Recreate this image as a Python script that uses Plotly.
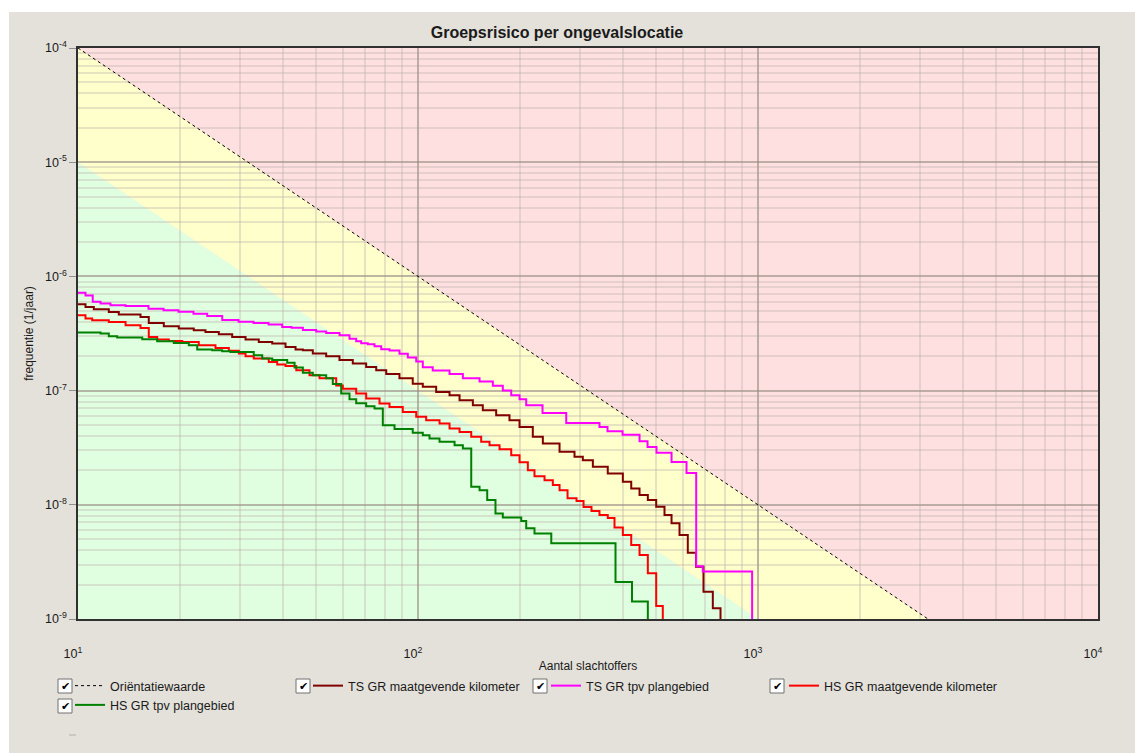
import numpy as np
import plotly.graph_objects as go

# ---------------- data ----------------
x_tick_vals = [10, 100, 1000, 10000]
x_tick_text = ["10<sup>1</sup>", "10<sup>2</sup>", "10<sup>3</sup>", "10<sup>4</sup>"]
y_tick_vals = [1e-9, 1e-8, 1e-7, 1e-6, 1e-5, 1e-4]
y_tick_text = ["10<sup>-9</sup>", "10<sup>-8</sup>", "10<sup>-7</sup>",
               "10<sup>-6</sup>", "10<sup>-5</sup>", "10<sup>-4</sup>"]

# orientation value line (upper zone border) and lower zone border
orient_N = [10, 3162.3]
orient_F = [1e-4, 1e-9]
zone_low_N = [10, 1000]
zone_low_F = [1e-5, 1e-9]

# TS GR maatgevende kilometer
ts_mk_N = [10, 10.52, 11.13, 12.32, 13.18, 15.27, 16.15, 17.88, 19.79, 21.9,
           23.71, 25.95, 28.41, 31.1, 34.02, 37.26, 40.77, 43.64, 45.85, 49.05,
           53.7, 58.75, 64.3, 70.4, 75.36, 80.64, 88.2, 96.5, 103.3, 113.1,
           123.8, 132.5, 145, 155.1, 169.8, 185.8, 198.9, 217.6, 232.9, 260.8,
           288.6, 305.3, 326.8, 361.5, 400.4, 423.8, 448.3, 474.2, 501.9, 530.9,
           556.8, 587.7, 621.6, 657.1, 691.3, 736.4, 775.8]
ts_mk_F = [5.70e-7, 5.40e-7, 5.16e-7, 4.88e-7, 4.63e-7, 4.41e-7, 3.91e-7, 3.66e-7, 3.49e-7, 3.38e-7,
           3.26e-7, 3.11e-7, 2.95e-7, 2.80e-7, 2.67e-7, 2.58e-7, 2.41e-7, 2.29e-7, 2.26e-7, 2.11e-7,
           2.00e-7, 1.85e-7, 1.73e-7, 1.61e-7, 1.51e-7, 1.40e-7, 1.28e-7, 1.15e-7, 1.08e-7, 9.74e-8,
           9.12e-8, 8.24e-8, 7.45e-8, 6.74e-8, 6.09e-8, 5.51e-8, 4.81e-8, 3.94e-8, 3.44e-8, 2.91e-8,
           2.63e-8, 2.46e-8, 2.15e-8, 1.88e-8, 1.59e-8, 1.39e-8, 1.22e-8, 1.10e-8, 9.61e-9, 8.13e-9,
           6.88e-9, 5.43e-9, 3.80e-9, 2.87e-9, 1.73e-9, 1.24e-9, 1e-9]

# TS GR tpv plangebied
ts_pg_N = [10, 10.52, 11.05, 11.65, 12.46, 13.8, 16.12, 17.85, 19.75, 21.86,
           23.99, 26.56, 29.66, 32.83, 36.34, 39.87, 42.46, 45.85, 50.18, 53.7,
           58.77, 62.88, 65.8, 68.06, 71.19, 74.5, 77.95, 82.46, 88.22, 93.33,
           98.79, 103.3, 110.5, 123.8, 135.5, 151.7, 166, 177.6, 188, 198.9,
           208.1, 232.4, 272.9, 341.8, 360.9, 399.6, 448.3, 473.2, 502.9, 556.8,
           616.3, 658, 688, 961]
ts_pg_F = [7.2e-7, 6.8e-7, 6.0e-7, 5.8e-7, 5.6e-7, 5.5e-7, 5.2e-7, 5.05e-7, 4.9e-7, 4.7e-7,
           4.5e-7, 4.15e-7, 4.0e-7, 3.9e-7, 3.8e-7, 3.6e-7, 3.55e-7, 3.4e-7, 3.3e-7, 3.2e-7,
           3.05e-7, 2.85e-7, 2.7e-7, 2.6e-7, 2.55e-7, 2.45e-7, 2.3e-7, 2.25e-7, 2.1e-7, 1.95e-7,
           1.8e-7, 1.6e-7, 1.5e-7, 1.4e-7, 1.28e-7, 1.2e-7, 1.1e-7, 1.0e-7, 9.1e-8, 8.4e-8,
           7.45e-8, 6.35e-8, 5.2e-8, 4.8e-8, 4.4e-8, 4.1e-8, 3.6e-8, 3.2e-8, 2.85e-8, 2.37e-8,
           1.9e-8, 2.9e-9, 2.6e-9, 1e-9]

# HS GR maatgevende kilometer
hs_mk_N = [10, 10.52, 11.01, 12.32, 13.8, 15.27, 16.15, 17.1, 18.5, 20.26,
           22.66, 25.37, 27.77, 29.72, 31.1, 32.88, 36.4, 38.54, 40.77, 43.85,
           47.96, 51.33, 57.47, 60.09, 65.8, 70.4, 77.06, 82.45, 90.2, 98.8,
           105.7, 115.7, 123.8, 132.5, 143.4, 153.4, 162.3, 173.7, 188, 198.9,
           210.4, 220.1, 235.6, 249.2, 260.8, 275.3, 292.6, 306.8, 323.8, 341.8,
           361.5, 378.4, 400.4, 423.8, 448.3, 474.2, 501.9, 524.8]
hs_mk_F = [4.57e-7, 4.27e-7, 4.13e-7, 3.99e-7, 3.73e-7, 3.54e-7, 2.95e-7, 2.80e-7, 2.72e-7, 2.67e-7,
           2.50e-7, 2.36e-7, 2.23e-7, 2.11e-7, 2.00e-7, 1.91e-7, 1.78e-7, 1.69e-7, 1.64e-7, 1.51e-7,
           1.36e-7, 1.28e-7, 1.11e-7, 1.04e-7, 9.43e-8, 8.53e-8, 7.71e-8, 7.20e-8, 6.51e-8, 5.89e-8,
           5.51e-8, 5.16e-8, 4.66e-8, 4.35e-8, 3.94e-8, 3.56e-8, 3.33e-8, 3.07e-8, 2.72e-8, 2.36e-8,
           2.01e-8, 1.78e-8, 1.64e-8, 1.49e-8, 1.34e-8, 1.14e-8, 1.08e-8, 9.55e-9, 8.81e-9, 8.13e-9,
           7.65e-9, 6.32e-9, 5.43e-9, 4.44e-9, 3.63e-9, 2.51e-9, 1.30e-9, 1e-9]

# HS GR tpv plangebied
hs_pg_N = [10, 11.65, 12.32, 13.04, 15.45, 17.1, 19.13, 21.18, 22.42, 24.81,
           26.55, 28.08, 32.88, 34.82, 37.26, 41.24, 43.35, 45.85, 49.05, 53.7,
           56.16, 59.44, 62.88, 65.8, 70.4, 74.5, 78.8, 85.3, 96.5, 103.3,
           108.1, 115.7, 128.1, 135.5, 143.4, 151.7, 159.8, 169, 177.6, 201.2,
           208.1, 220.1, 246.6, 381, 426, 474.2]
hs_pg_F = [3.22e-7, 3.16e-7, 2.99e-7, 2.91e-7, 2.82e-7, 2.71e-7, 2.61e-7, 2.50e-7, 2.29e-7, 2.26e-7,
           2.21e-7, 2.18e-7, 2.04e-7, 1.91e-7, 1.85e-7, 1.75e-7, 1.59e-7, 1.43e-7, 1.36e-7, 1.28e-7,
           1.14e-7, 9.43e-8, 8.41e-8, 7.76e-8, 7.30e-8, 6.97e-8, 4.98e-8, 4.60e-8, 4.28e-8, 4.07e-8,
           3.81e-8, 3.56e-8, 3.33e-8, 3.11e-8, 1.44e-8, 1.34e-8, 1.10e-8, 8.41e-9, 7.76e-9, 7.20e-9,
           6.22e-9, 5.60e-9, 4.60e-9, 2.11e-9, 1.42e-9, 1e-9]

series_names = ["Oriëntatiewaarde", "TS GR maatgevende kilometer", "TS GR tpv plangebied",
                "HS GR maatgevende kilometer", "HS GR tpv plangebied"]

# ---------------- layout geometry ----------------
W, H = 1135, 753
ML, MR, MT, MB = 78, 37, 48, 134
PW, PH = W - ML - MR, H - MT - MB
X_RANGE = [1, 4]
Y_RANGE = [-9, -4]
FONT = "Liberation Sans, Arial, sans-serif"


def px_x(px):
    return (px - ML) / PW


def px_y(py):
    return (H - MB - py) / PH


def data_paper(n, f):
    return ((np.log10(n) - X_RANGE[0]) / (X_RANGE[1] - X_RANGE[0]),
            (np.log10(f) - Y_RANGE[0]) / (Y_RANGE[1] - Y_RANGE[0]))


o0 = data_paper(orient_N[0], orient_F[0])
o1 = data_paper(orient_N[1], orient_F[1])
z0 = data_paper(zone_low_N[0], zone_low_F[0])
z1 = data_paper(zone_low_N[1], zone_low_F[1])


def poly(pts):
    return "M " + " L ".join(f"{x:.5f},{y:.5f}" for x, y in pts) + " Z"


shapes = []
# white outer frame strips
shapes.append(dict(type="rect", xref="paper", yref="paper", layer="below",
                   x0=px_x(0), x1=px_x(W), y0=px_y(12), y1=px_y(0),
                   fillcolor="white", line=dict(width=0)))
shapes.append(dict(type="rect", xref="paper", yref="paper", layer="below",
                   x0=px_x(0), x1=px_x(9), y0=px_y(H), y1=px_y(0),
                   fillcolor="white", line=dict(width=0)))
# risk zones
shapes.append(dict(type="path", xref="paper", yref="paper", layer="below",
                   path=poly([o0, (1, 1), (1, 0), o1]),
                   fillcolor="#FFE0E0", line=dict(width=0)))
shapes.append(dict(type="path", xref="paper", yref="paper", layer="below",
                   path=poly([o0, o1, z1, z0]),
                   fillcolor="#FFFFCC", line=dict(width=0)))
shapes.append(dict(type="path", xref="paper", yref="paper", layer="below",
                   path=poly([z0, z1, (0, 0)]),
                   fillcolor="#E0FFE0", line=dict(width=0)))

fig = go.Figure()

fig.add_trace(go.Scatter(x=orient_N, y=orient_F, mode="lines", name=series_names[0],
                         line=dict(color="black", width=1, dash="3px,3px")))
colors = ["#800000", "#FF00FF", "#FF0000", "#008000"]
all_series = [(ts_mk_N, ts_mk_F), (ts_pg_N, ts_pg_F), (hs_mk_N, hs_mk_F), (hs_pg_N, hs_pg_F)]
for (nn, ff), col, name in zip(all_series, colors, series_names[1:]):
    fig.add_trace(go.Scatter(x=nn, y=ff, mode="lines", name=name, line_shape="hv",
                             line=dict(color=col, width=2)))

# legend check boxes
annotations = []
box_positions = [(58, 679), (296, 679), (533, 679), (770, 679), (58, 699)]
for bx, by in box_positions:
    shapes.append(dict(type="rect", xref="paper", yref="paper", layer="above",
                       x0=px_x(bx), x1=px_x(bx + 14), y0=px_y(by + 14), y1=px_y(by),
                       fillcolor="white", line=dict(color="#707070", width=1)))
    annotations.append(dict(xref="paper", yref="paper", x=px_x(bx + 7), y=px_y(by + 7),
                            text="✔", showarrow=False, xanchor="center", yanchor="middle",
                            font=dict(family="DejaVu Sans", size=11, color="black")))
# tiny dash below legend
shapes.append(dict(type="line", xref="paper", yref="paper", layer="above",
                   x0=px_x(69), x1=px_x(76), y0=px_y(735), y1=px_y(735),
                   line=dict(color="#b0b0b0", width=1)))

fig.update_layout(
    width=W, height=H,
    margin=dict(l=ML, r=MR, t=MT, b=MB, pad=0),
    paper_bgcolor="#E4E1DB",
    plot_bgcolor="#FFE0E0",
    font=dict(family=FONT, size=12, color="#1a1a1a"),
    title=dict(text="<b>Groepsrisico per ongevalslocatie</b>", x=557 / W, xref="container",
               xanchor="center", y=1 - 32 / H, yref="container", yanchor="middle",
               font=dict(family=FONT, size=16, color="#1a1a1a")),
    showlegend=True,
    legend=dict(orientation="h", x=px_x(70), xanchor="left", y=px_y(671), yanchor="top",
                entrywidth=193, entrywidthmode="pixels", bgcolor="rgba(0,0,0,0)",
                font=dict(family=FONT, size=12.5, color="#1a1a1a"), traceorder="normal"),
    shapes=shapes,
    annotations=annotations,
)

fig.update_xaxes(type="log", range=X_RANGE, tickvals=x_tick_vals, ticktext=x_tick_text,
                 showgrid=True, gridcolor="rgba(150,138,128,0.5)", gridwidth=1.5,
                 minor=dict(dtick="D1", showgrid=True, gridcolor="rgba(185,175,170,0.35)", gridwidth=1.5),
                 showline=True, mirror=True, linecolor="#303030", linewidth=1.5,
                 ticks="", ticklabelstandoff=22, ticklabelshift=-5,
                 tickfont=dict(family=FONT, size=12.5, color="#1a1a1a"),
                 title=dict(text="Aantal slachtoffers", standoff=2,
                            font=dict(family=FONT, size=12, color="#1a1a1a")),
                 zeroline=False)
fig.update_yaxes(type="log", range=Y_RANGE, tickvals=y_tick_vals, ticktext=y_tick_text,
                 showgrid=True, gridcolor="rgba(150,138,128,0.5)", gridwidth=1.5,
                 minor=dict(dtick="D1", showgrid=True, gridcolor="rgba(185,175,170,0.35)", gridwidth=1.5),
                 showline=True, mirror=True, linecolor="#303030", linewidth=1.5,
                 ticks="outside", ticklen=7, tickcolor="#909090", tickwidth=1,
                 tickfont=dict(family=FONT, size=12.5, color="#1a1a1a"),
                 title=dict(text="frequentie (1/jaar)", standoff=9,
                            font=dict(family=FONT, size=12, color="#1a1a1a")),
                 zeroline=False)

fig.write_html("out.html", config={"displayModeBar": False},
               post_script="document.body.style.margin='0px';")
